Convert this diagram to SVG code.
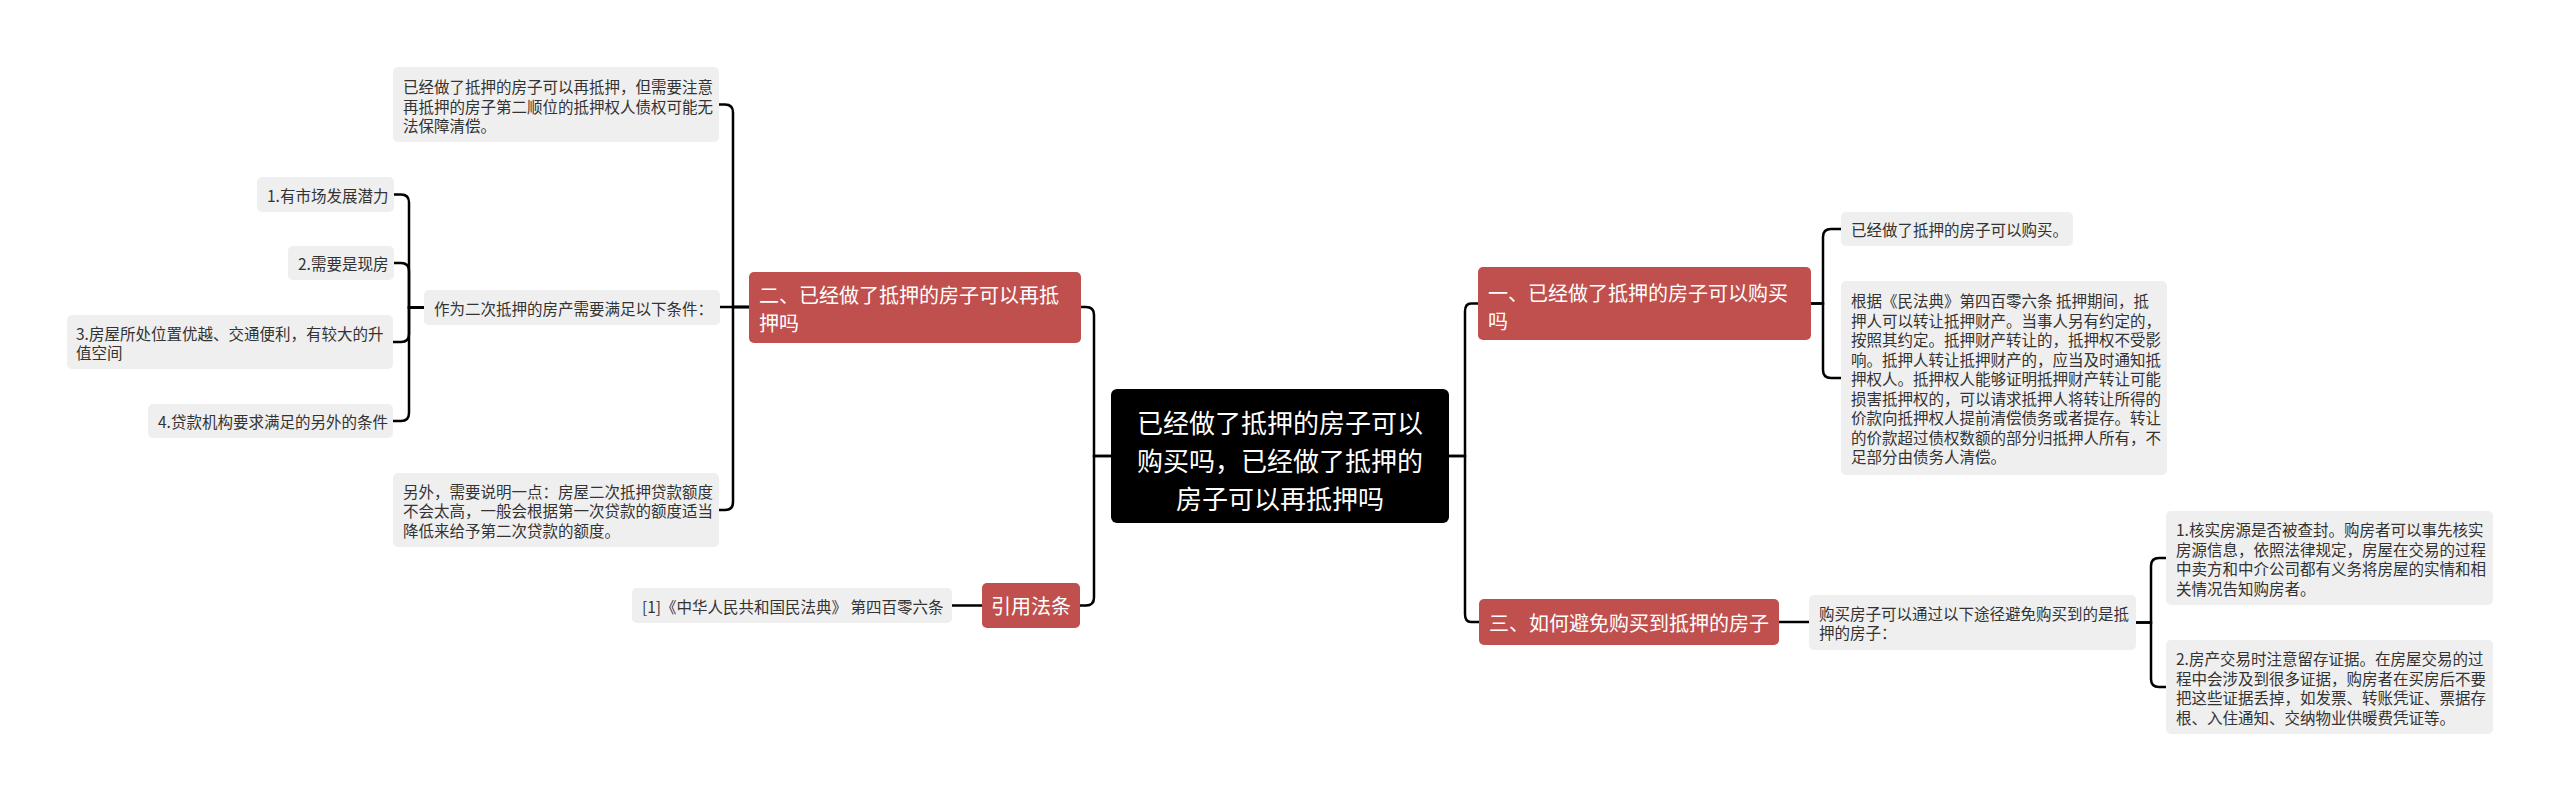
<svg xmlns="http://www.w3.org/2000/svg" width="2560" height="802" viewBox="0 0 2560 802">
<style>
text{font-family:"Noto Sans CJK SC","Noto Sans",sans-serif;dominant-baseline:central}
.g rect{fill:#EFEFEF}
.g text{font-size:15.5px;fill:#333}
.r rect{fill:#C0504D}
.r text{font-size:20px;fill:#fff}
.c rect{fill:#000}
.c text{font-size:26px;fill:#fff;text-anchor:middle}
#connectors path{fill:none;stroke:#000;stroke-width:2.5}
</style>
<rect width="2560" height="802" fill="#fff"/>
<g id="connectors">
<path d="M1111,456 H1094 V315 Q1094,307 1086,307 H1081"/>
<path d="M1111,456 H1094 V597.5 Q1094,605.5 1086,605.5 H1080"/>
<path d="M749,307 H733 V112.5 Q733,104.5 725,104.5 H719"/>
<path d="M749,307 H720"/>
<path d="M749,307 H733 V502 Q733,510 725,510 H719"/>
<path d="M424,307.5 H409 V202.5 Q409,194.5 401,194.5 H394"/>
<path d="M424,307.5 H409 V271 Q409,263 401,263 H394"/>
<path d="M424,307.5 H409 V334 Q409,342 401,342 H393"/>
<path d="M424,307.5 H409 V413 Q409,421 401,421 H393"/>
<path d="M982,605.5 H952"/>
<path d="M1449,456 H1465 V311.5 Q1465,303.5 1471,303.5 H1478"/>
<path d="M1449,456 H1465 V614 Q1465,622 1471,622 H1479"/>
<path d="M1811,303.5 H1823 V237 Q1823,229 1831,229 H1841"/>
<path d="M1811,303.5 H1823 V370 Q1823,378 1831,378 H1841"/>
<path d="M1779,622 H1809"/>
<path d="M2136,622.5 H2151 V566 Q2151,558 2159,558 H2166"/>
<path d="M2136,622.5 H2151 V679 Q2151,687 2159,687 H2166"/>
</g>
<g id="center" class="c">
<rect x="1111" y="389" width="338" height="134" rx="6"/>
<text x="1280" y="421">已经做了抵押的房子可以</text>
<text x="1280" y="459">购买吗，已经做了抵押的</text>
<text x="1280" y="497">房子可以再抵押吗</text>
</g>
<g id="branch2" class="r">
<rect x="749" y="272" width="332" height="71" rx="5"/>
<text x="759" y="294">二、已经做了抵押的房子可以再抵</text>
<text x="759" y="322">押吗</text>
</g>
<g id="a1" class="g">
<rect x="393" y="67" width="326" height="75" rx="5"/>
<text x="403" y="86">已经做了抵押的房子可以再抵押，但需要注意</text>
<text x="403" y="105.5">再抵押的房子第二顺位的抵押权人债权可能无</text>
<text x="403" y="125">法保障清偿。</text>
</g>
<g id="a2" class="g">
<rect x="424" y="290" width="296" height="35" rx="5"/>
<text x="434" y="307.5">作为二次抵押的房产需要满足以下条件：</text>
</g>
<g id="l1" class="g">
<rect x="257" y="177" width="137" height="35" rx="5"/>
<text x="267" y="194.5">1.有市场发展潜力</text>
</g>
<g id="l2" class="g">
<rect x="288" y="246" width="106" height="34" rx="5"/>
<text x="298" y="263">2.需要是现房</text>
</g>
<g id="l3" class="g">
<rect x="67" y="315" width="326" height="54" rx="5"/>
<text x="76" y="332.5">3.房屋所处位置优越、交通便利，有较大的升</text>
<text x="76" y="352">值空间</text>
</g>
<g id="l4" class="g">
<rect x="148" y="404" width="245" height="34" rx="5"/>
<text x="158" y="421">4.贷款机构要求满足的另外的条件</text>
</g>
<g id="a3" class="g">
<rect x="393" y="473" width="326" height="74" rx="5"/>
<text x="403" y="490.5">另外，需要说明一点：房屋二次抵押贷款额度</text>
<text x="403" y="510">不会太高，一般会根据第一次贷款的额度适当</text>
<text x="403" y="529.5">降低来给予第二次贷款的额度。</text>
</g>
<g id="cite" class="r">
<rect x="982" y="583" width="98" height="45" rx="5"/>
<text x="1031" y="605.5" text-anchor="middle">引用法条</text>
</g>
<g id="cite1" class="g">
<rect x="632" y="588" width="320" height="35" rx="5"/>
<text x="642" y="605.5">[1]《中华人民共和国民法典》 第四百零六条</text>
</g>
<g id="branch1" class="r">
<rect x="1478" y="267" width="333" height="73" rx="5"/>
<text x="1488" y="292">一、已经做了抵押的房子可以购买</text>
<text x="1488" y="320">吗</text>
</g>
<g id="r1" class="g">
<rect x="1841" y="212" width="232" height="34" rx="5"/>
<text x="1851" y="229">已经做了抵押的房子可以购买。</text>
</g>
<g id="r2" class="g">
<rect x="1841" y="281" width="326" height="194" rx="5"/>
<text x="1851" y="300">根据《民法典》第四百零六条 抵押期间，抵</text>
<text x="1851" y="319.5">押人可以转让抵押财产。当事人另有约定的，</text>
<text x="1851" y="339">按照其约定。抵押财产转让的，抵押权不受影</text>
<text x="1851" y="358.5">响。抵押人转让抵押财产的，应当及时通知抵</text>
<text x="1851" y="378">押权人。抵押权人能够证明抵押财产转让可能</text>
<text x="1851" y="397.5">损害抵押权的，可以请求抵押人将转让所得的</text>
<text x="1851" y="417">价款向抵押权人提前清偿债务或者提存。转让</text>
<text x="1851" y="436.5">的价款超过债权数额的部分归抵押人所有，不</text>
<text x="1851" y="456">足部分由债务人清偿。</text>
</g>
<g id="branch3" class="r">
<rect x="1479" y="599" width="300" height="46" rx="5"/>
<text x="1489" y="622">三、如何避免购买到抵押的房子</text>
</g>
<g id="r3" class="g">
<rect x="1809" y="595" width="327" height="55" rx="5"/>
<text x="1819" y="612.75">购买房子可以通过以下途径避免购买到的是抵</text>
<text x="1819" y="632.25">押的房子：</text>
</g>
<g id="r4" class="g">
<rect x="2166" y="511" width="327" height="94" rx="5"/>
<text x="2176" y="529">1.核实房源是否被查封。购房者可以事先核实</text>
<text x="2176" y="548.5">房源信息，依照法律规定，房屋在交易的过程</text>
<text x="2176" y="568">中卖方和中介公司都有义务将房屋的实情和相</text>
<text x="2176" y="587.5">关情况告知购房者。</text>
</g>
<g id="r5" class="g">
<rect x="2166" y="640" width="327" height="94" rx="5"/>
<text x="2176" y="658">2.房产交易时注意留存证据。在房屋交易的过</text>
<text x="2176" y="677.5">程中会涉及到很多证据，购房者在买房后不要</text>
<text x="2176" y="697">把这些证据丢掉，如发票、转账凭证、票据存</text>
<text x="2176" y="716.5">根、入住通知、交纳物业供暖费凭证等。</text>
</g>
</svg>
